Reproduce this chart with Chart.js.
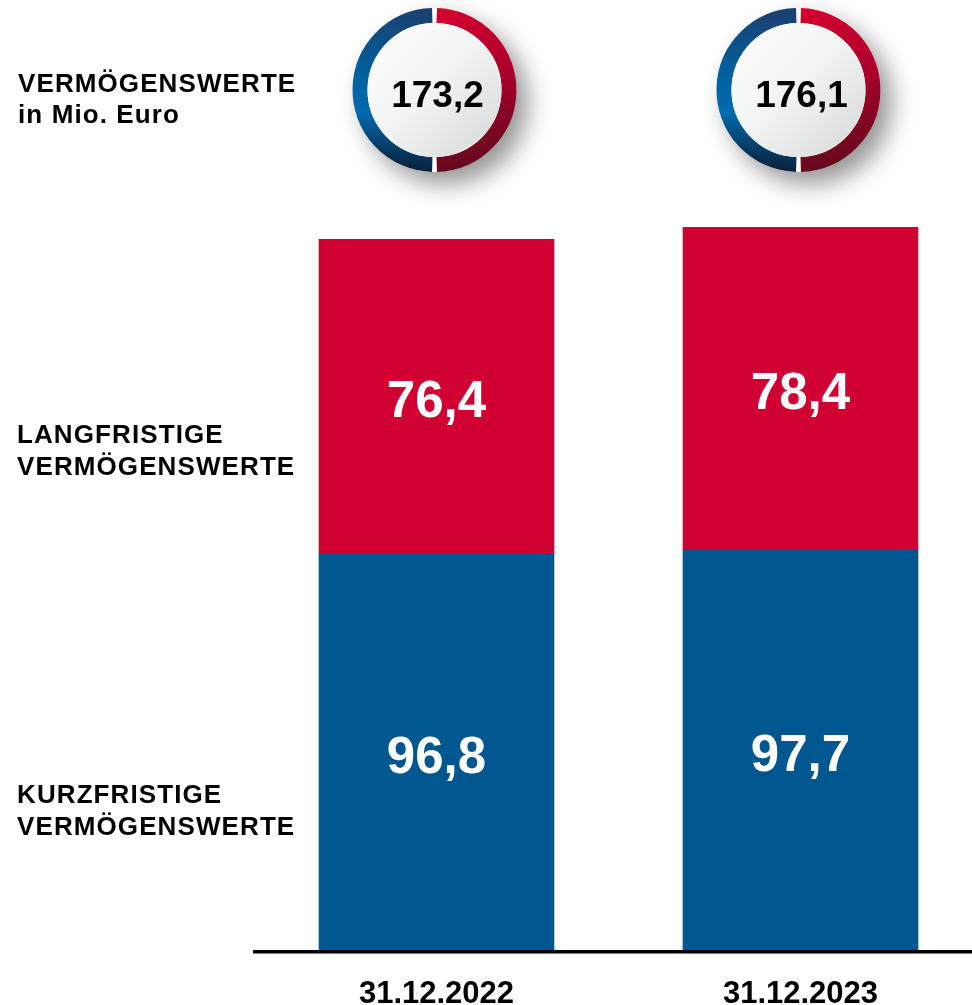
<!DOCTYPE html>
<html><head><meta charset="utf-8">
<script src="https://cdn.jsdelivr.net/npm/chart.js@4.4.1/dist/chart.umd.min.js"></script>
<style>html,body{margin:0;padding:0;background:#fff;overflow:hidden}#wrap{width:972px;height:1005px}</style>
</head><body><div id="wrap"><canvas id="c" width="972" height="1005"></canvas></div>
<script>
const categories = ['31.12.2022', '31.12.2023'];
const kurzfristig = [96.8, 97.7];
const langfristig = [76.4, 78.4];
const totals = [173.2, 176.1];
const titleLines = ['VERMÖGENSWERTE', 'in Mio. Euro'];
const langLabel = ['LANGFRISTIGE', 'VERMÖGENSWERTE'];
const kurzLabel = ['KURZFRISTIGE', 'VERMÖGENSWERTE'];

const FONT = "'Liberation Sans', Arial, Helvetica, sans-serif";
Chart.defaults.font.family = FONT;

const fmt = v => v.toFixed(1).replace('.', ',');

const decor = {
  id: 'decor',
  afterDatasetsDraw(chart) {
    const ctx = chart.ctx;
    ctx.save();
    ctx.fillStyle = '#ffffff';
    ctx.font = 'bold 51px ' + FONT;
    ctx.textAlign = 'center';
    ctx.textBaseline = 'alphabetic';
    chart.data.datasets.forEach((ds, di) => {
      const meta = chart.getDatasetMeta(di);
      meta.data.forEach((bar, i) => {
        const mid = (bar.y + bar.base) / 2;
        ctx.fillText(fmt(ds.data[i].y), bar.x, mid + 20.5);
      });
    });
    ctx.restore();
  },
  afterDraw(chart) {
    const ctx = chart.ctx;
    const xs = chart.scales.x;
    totals.forEach((t, i) => {
      const cx = xs.getPixelForValue(i) - 2;
      const cy = 90;
      const R = 82, ringW = 15, rc = R - ringW / 2, inner = R - ringW;
      ctx.save();
      ctx.shadowColor = 'rgba(0,0,0,0.42)';
      ctx.shadowBlur = 24;
      ctx.shadowOffsetX = 11;
      ctx.shadowOffsetY = 12;
      ctx.fillStyle = '#ffffff';
      ctx.beginPath(); ctx.arc(cx, cy, R, 0, Math.PI * 2); ctx.fill();
      ctx.restore();
      ctx.save();
      const g = 0.03;
      ctx.lineWidth = ringW;
      ctx.lineCap = 'butt';
      const gb = ctx.createLinearGradient(cx, cy - R, cx - 20, cy + R);
      gb.addColorStop(0, '#1c3f6c');
      gb.addColorStop(0.45, '#00609f');
      gb.addColorStop(0.68, '#006cae');
      gb.addColorStop(1, '#0a1d36');
      ctx.strokeStyle = gb;
      ctx.beginPath(); ctx.arc(cx, cy, rc, Math.PI / 2 + g, Math.PI * 1.5 - g); ctx.stroke();
      const gr = ctx.createLinearGradient(cx, cy - R, cx + R * 0.6, cy + R);
      gr.addColorStop(0, '#d6002f');
      gr.addColorStop(0.5, '#a8002a');
      gr.addColorStop(1, '#5c0b1d');
      ctx.strokeStyle = gr;
      ctx.beginPath(); ctx.arc(cx, cy, rc, -Math.PI / 2 + g, Math.PI / 2 - g); ctx.stroke();
      const gd = ctx.createLinearGradient(cx - inner, cy - inner, cx + inner, cy + inner);
      gd.addColorStop(0, '#ffffff');
      gd.addColorStop(0.5, '#f1f2f2');
      gd.addColorStop(1, '#d6d7d8');
      ctx.fillStyle = gd;
      ctx.beginPath(); ctx.arc(cx, cy, inner, 0, Math.PI * 2); ctx.fill();
      ctx.fillStyle = '#000000';
      ctx.font = 'bold 37px ' + FONT;
      ctx.textAlign = 'center';
      ctx.textBaseline = 'alphabetic';
      ctx.fillText(fmt(t), cx + 3, 107);
      ctx.restore();
    });
    ctx.save();
    ctx.fillStyle = '#000000';
    ctx.font = 'bold 26px ' + FONT;
    ctx.textAlign = 'left';
    ctx.textBaseline = 'alphabetic';
    try { ctx.letterSpacing = '1.1px'; } catch (e) {}
    ctx.fillText(titleLines[0], 18, 92);
    ctx.fillText(titleLines[1], 18, 123);
    ctx.fillText(langLabel[0], 17, 443);
    ctx.fillText(langLabel[1], 17, 475);
    ctx.fillText(kurzLabel[0], 17, 803);
    ctx.fillText(kurzLabel[1], 17, 835);
    ctx.restore();
  }
};

new Chart(document.getElementById('c'), {
  type: 'bar',
  data: {
    datasets: [
      { label: 'KURZFRISTIGE VERMÖGENSWERTE', data: kurzfristig.map((v, i) => ({ x: i, y: v })), backgroundColor: '#00578f', barThickness: 235 },
      { label: 'LANGFRISTIGE VERMÖGENSWERTE', data: langfristig.map((v, i) => ({ x: i, y: v })), backgroundColor: '#d10032', barThickness: 235 }
    ]
  },
  options: {
    responsive: false,
    devicePixelRatio: 1,
    animation: false,
    layout: { padding: { top: 129, left: 254.5, right: 0, bottom: 0 } },
    plugins: { legend: { display: false }, tooltip: { enabled: false } },
    scales: {
      x: {
        type: 'linear', min: -0.5, max: 1.4712, stacked: true, offset: false,
        grid: { display: false, offset: false },
        border: { display: true, color: '#000000', width: 3.5, z: 1 },
        afterBuildTicks: s => { s.ticks = categories.map((_, i) => ({ value: i })); },
        afterFit: s => { s.height = 53.5; },
        ticks: {
          font: { size: 31, weight: 'bold' }, color: '#000000', padding: 16,
          maxRotation: 0, autoSkip: false,
          callback: v => categories[v] !== undefined ? categories[v] : ''
        }
      },
      y: { display: false, stacked: true, min: 0, max: 200 }
    }
  },
  plugins: [decor]
});
</script></body></html>
